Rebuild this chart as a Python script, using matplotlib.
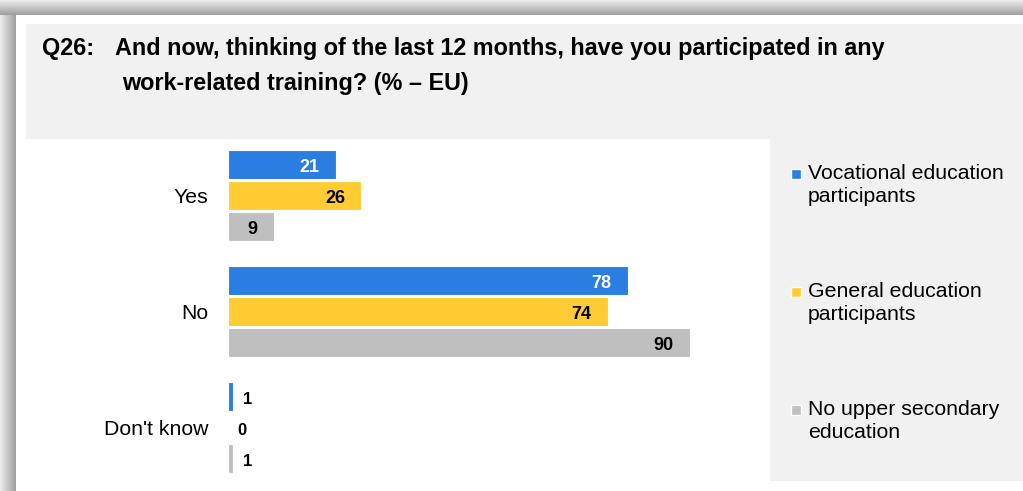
import matplotlib.pyplot as plt
import numpy as np
from matplotlib.patches import Rectangle

plt.rcParams['font.family'] = ['Liberation Sans', 'DejaVu Sans']

# data
categories = ["Yes", "No", "Don't know"]
series_names = ["Vocational education\nparticipants",
                "General education\nparticipants",
                "No upper secondary\neducation"]
vocational = [21, 78, 1]
general = [26, 74, 0]
no_upper = [9, 90, 1]
colors = ['#2A7DE1', '#FFCD33', '#BFBFBF']
label_colors = ['white', 'black', 'black']

W, H = 1023, 491
fig = plt.figure(figsize=(W / 100, H / 100), dpi=100)

# background layer in pixel coordinates
bg = fig.add_axes([0, 0, 1, 1], zorder=-5)
bg.axis('off')

# shadow strips (left + top)
grad = np.linspace(0.93, 0.62, 64)
bg.imshow(grad[None, :], extent=(0, 16, H, 14), cmap='gray', vmin=0, vmax=1,
          aspect='auto', interpolation='bilinear')
bg.imshow(grad[:, None], extent=(0, W, 15, 0), cmap='gray', vmin=0, vmax=1,
          aspect='auto', interpolation='bilinear')
bg.set_xlim(0, W)
bg.set_ylim(H, 0)

# panels
bg.add_patch(Rectangle((26, 24), W - 26, 115, color='#F1F1F1', lw=0))
bg.add_patch(Rectangle((770, 139), W - 770, 342, color='#F1F1F1', lw=0))

# title
title_fs = 16.8
bg.text(42, 48, "Q26:", fontsize=title_fs, fontweight='bold', va='center', ha='left')
bg.text(115, 48, "And now, thinking of the last 12 months, have you participated in any",
        fontsize=title_fs, fontweight='bold', va='center', ha='left')
bg.text(122, 83, "work-related training? (% \u2013 EU)",
        fontsize=title_fs, fontweight='bold', va='center', ha='left')

# legend (manual, in the grey side panel)
leg_y = [174, 292, 410]
for name, c, y in zip(series_names, colors, leg_y):
    bg.add_patch(Rectangle((791, y - 5), 10, 10, facecolor=c, edgecolor='white', lw=1))
    bg.text(808, y - 10, name, fontsize=15.3, va='top', ha='left', linespacing=1.3)

# bar chart axes
px_per_unit = 5.13
pitch = 31.0
ax_left, ax_right, ax_top, ax_bot = 228, 770, 139, 481
ax = fig.add_axes([ax_left / W, 1 - ax_bot / H, (ax_right - ax_left) / W, (ax_bot - ax_top) / H])
ax.set_xlim(0, (ax_right - ax_left) / px_per_unit)
group_gap = 116 / pitch
y_top = -57 / pitch
ax.set_ylim(y_top + (ax_bot - ax_top) / pitch, y_top)
ax.patch.set_alpha(0)
for s in ax.spines.values():
    s.set_visible(False)

centers = np.arange(len(categories)) * group_gap
all_series = [vocational, general, no_upper]
for k, (vals, c, lc) in enumerate(zip(all_series, colors, label_colors)):
    ypos = centers + (k - 1)
    bars = ax.barh(ypos, vals, height=29 / pitch, color=c, edgecolor='white', linewidth=0.8)
    for b, v in zip(bars, vals):
        yc = b.get_y() + b.get_height() / 2 + 0.07
        if v >= 5:
            ax.text(v - 3.2, yc, str(v), ha='right', va='center', fontsize=13,
                    fontweight='bold', color=lc)
        else:
            ax.text(v + 1.9, yc, str(v), ha='left', va='center', fontsize=12,
                    fontweight='bold', color='black')

ax.set_xticks([])
ax.set_yticks(centers)
ax.set_yticklabels(categories, fontsize=15.3)
ax.tick_params(axis='y', length=0, pad=14.4)

fig.savefig('out.png', dpi=100)
